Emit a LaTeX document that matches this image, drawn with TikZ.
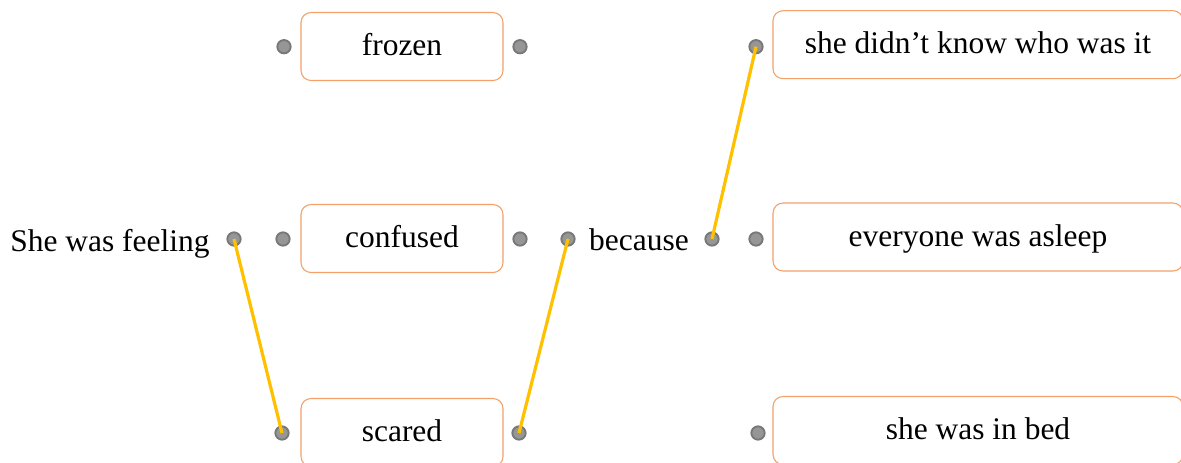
\documentclass[tikz,border=0pt]{standalone}
\usepackage{fontspec}
\setmainfont{Liberation Serif}
\begin{document}
\begin{tikzpicture}[x=0.75pt,y=-0.75pt,
  word/.style={font=\fontsize{23.6pt}{28pt}\selectfont},
  optbox/.style={word,draw=boxorange,line width=0.8pt,rounded corners=7.5pt,
    minimum width=151.5pt,minimum height=51pt,inner sep=0pt,fill=white,
    text height=18pt,text depth=4.5pt},
  widebox/.style={optbox,minimum width=307.5pt},
  pin/.style={circle,fill=pingray,draw=pinedge,line width=1.4pt,
    minimum size=10pt,inner sep=0pt},
  link/.style={draw=linkyellow,line width=2.4pt}]
\definecolor{boxorange}{RGB}{243,160,105}
\definecolor{pingray}{RGB}{150,150,150}
\definecolor{pinedge}{RGB}{120,120,120}
\definecolor{linkyellow}{RGB}{255,192,0}
\useasboundingbox (0,0) rectangle (1181,462);

% middle column of choices
\node[optbox] (frozen)   at (402,46.5) {frozen};
\node[optbox] (confused) at (402,238.5) {confused};
\node[optbox] (scared)   at (402,432.5) {scared};

% right column of reasons
\node[widebox] (knew)   at (978,44.7) {she didn’t know who was it};
\node[widebox] (asleep) at (978,237)  {everyone was asleep};
\node[widebox] (bed)    at (978,430.5) {she was in bed};

% sentence fragments
\node[word,anchor=base] (feel) at (110,251) {She was feeling};
\node[word,anchor=base] (because) at (639,250) {because};

% connection pins
\node[pin] (pfeel) at (234,239) {};
\node[pin] (pfrozenL) at (284,46.7) {};
\node[pin] (pfrozenR) at (520,46.7) {};
\node[pin] (pconfL) at (283,239) {};
\node[pin] (pconfR) at (520,239) {};
\node[pin] (pscL) at (282,433) {};
\node[pin] (pscR) at (519,433) {};
\node[pin] (pbecL) at (568,239) {};
\node[pin] (pbecR) at (712,239) {};
\node[pin] (pknew) at (756,46.7) {};
\node[pin] (pasleep) at (756,239) {};
\node[pin] (pbed) at (758,433) {};

% chosen links
\draw[link] (pfeel.center) -- (pscL.center);
\draw[link] (pbecL.center) -- (pscR.center);
\draw[link] (pbecR.center) -- (pknew.center);
\end{tikzpicture}
\end{document}
